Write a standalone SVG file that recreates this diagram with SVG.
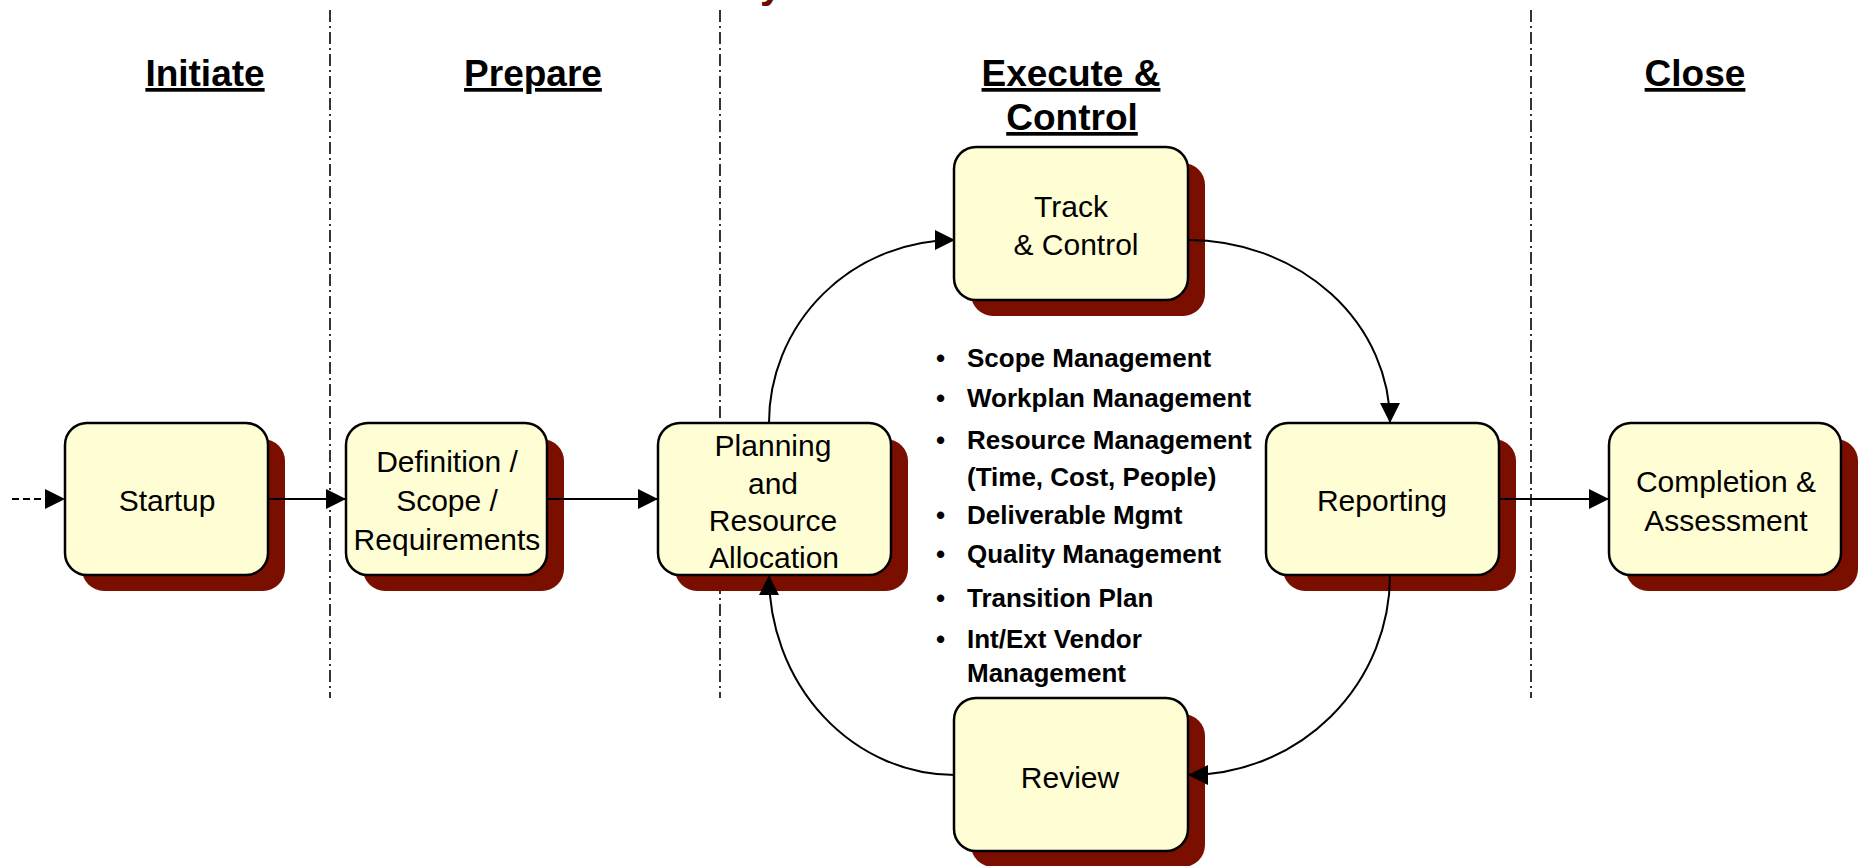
<svg xmlns="http://www.w3.org/2000/svg" width="1862" height="866" viewBox="0 0 1862 866">
<style>
.phase{font-family:"Liberation Sans",Arial,sans-serif;font-weight:bold;font-size:37px;fill:#000;text-anchor:middle;text-decoration:underline}
.lbl{font-family:"Liberation Sans",Arial,sans-serif;font-size:30px;fill:#000;text-anchor:middle}
.bul{font-family:"Liberation Sans",Arial,sans-serif;font-weight:bold;font-size:26px;fill:#000}
.box{fill:#FFFDD3;stroke:#000;stroke-width:2.5}
.shadow{fill:#7A0F00}
.sep{stroke:#000;stroke-width:1.6;stroke-dasharray:12 4 2 4;fill:none}
.conn{stroke:#000;stroke-width:2;fill:none;marker-end:url(#arr)}
</style>
<defs>
<marker id="arr" markerUnits="userSpaceOnUse" markerWidth="20" markerHeight="20" refX="20" refY="10" orient="auto">
<path d="M0,0 L20,10 L0,20 Z" fill="#000"/>
</marker>
</defs>
<text x="760" y="-2" font-family="Liberation Sans,Arial,sans-serif" font-weight="bold" font-size="40" fill="#6E0A00">y</text>
<g id="separators">
<line class="sep" x1="330" y1="10" x2="330" y2="698"/>
<line class="sep" x1="720" y1="10" x2="720" y2="698"/>
<line class="sep" x1="1531" y1="10" x2="1531" y2="698"/>
</g>
<g id="headers">
<text class="phase" x="205" y="86">Initiate</text>
<text class="phase" x="533" y="86">Prepare</text>
<text class="phase" x="1071" y="86">Execute &amp;</text>
<text class="phase" x="1072" y="130">Control</text>
<text class="phase" x="1695" y="86">Close</text>
</g>
<g id="startup">
<rect class="shadow" x="82" y="439" width="203" height="152" rx="22"/>
<rect class="box" x="65" y="423" width="203" height="152" rx="22"/>
<text class="lbl" x="167" y="511">Startup</text>
</g>
<g id="definition">
<rect class="shadow" x="363" y="439" width="201" height="152" rx="22"/>
<rect class="box" x="346" y="423" width="201" height="152" rx="22"/>
<text class="lbl" x="447" y="472">Definition /</text>
<text class="lbl" x="447" y="511">Scope /</text>
<text class="lbl" x="447" y="550">Requirements</text>
</g>
<g id="planning">
<rect class="shadow" x="675" y="439" width="233" height="152" rx="22"/>
<rect class="box" x="658" y="423" width="233" height="152" rx="22"/>
<text class="lbl" x="773" y="456">Planning</text>
<text class="lbl" x="773" y="494">and</text>
<text class="lbl" x="773" y="531">Resource</text>
<text class="lbl" x="774" y="568">Allocation</text>
</g>
<g id="track">
<rect class="shadow" x="971" y="163" width="234" height="153" rx="22"/>
<rect class="box" x="954" y="147" width="234" height="153" rx="22"/>
<text class="lbl" x="1071" y="217">Track</text>
<text class="lbl" x="1076" y="255">&amp; Control</text>
</g>
<g id="reporting">
<rect class="shadow" x="1283" y="439" width="233" height="152" rx="22"/>
<rect class="box" x="1266" y="423" width="233" height="152" rx="22"/>
<text class="lbl" x="1382" y="511">Reporting</text>
</g>
<g id="completion">
<rect class="shadow" x="1626" y="439" width="232" height="152" rx="22"/>
<rect class="box" x="1609" y="423" width="232" height="152" rx="22"/>
<text class="lbl" x="1726" y="492">Completion &amp;</text>
<text class="lbl" x="1726" y="531">Assessment</text>
</g>
<g id="review">
<rect class="shadow" x="971" y="714" width="234" height="153" rx="22"/>
<rect class="box" x="954" y="698" width="234" height="153" rx="22"/>
<text class="lbl" x="1070" y="788">Review</text>
</g>
<g id="connectors">
<line class="conn" x1="12" y1="499" x2="65" y2="499" stroke-dasharray="7 4"/>
<line class="conn" x1="268" y1="499" x2="346" y2="499"/>
<line class="conn" x1="547" y1="499" x2="658" y2="499"/>
<line class="conn" x1="1499" y1="499" x2="1609" y2="499"/>
<path class="conn" d="M769 423 A186 183 0 0 1 955 240"/>
<path class="conn" d="M1188 240 A202 183 0 0 1 1390 423"/>
<path class="conn" d="M1390 575 A202 200 0 0 1 1188 775"/>
<path class="conn" d="M955 775 A186 200 0 0 1 769 575"/>
</g>
<g id="activities">
<text class="bul" x="936" y="367">•</text><text class="bul" x="967" y="367">Scope Management</text>
<text class="bul" x="936" y="407">•</text><text class="bul" x="967" y="407">Workplan Management</text>
<text class="bul" x="936" y="449">•</text><text class="bul" x="967" y="449">Resource Management</text>
<text class="bul" x="967" y="486">(Time, Cost, People)</text>
<text class="bul" x="936" y="524">•</text><text class="bul" x="967" y="524">Deliverable Mgmt</text>
<text class="bul" x="936" y="563">•</text><text class="bul" x="967" y="563">Quality Management</text>
<text class="bul" x="936" y="607">•</text><text class="bul" x="967" y="607">Transition Plan</text>
<text class="bul" x="936" y="648">•</text><text class="bul" x="967" y="648">Int/Ext Vendor</text>
<text class="bul" x="967" y="682">Management</text>
</g>
</svg>
